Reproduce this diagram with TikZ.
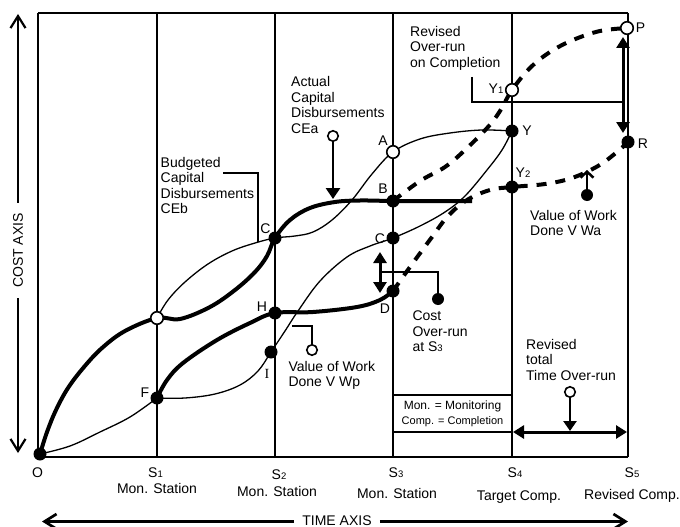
\documentclass[tikz,border=0pt]{standalone}
\usepackage{fontspec}
\setmainfont{Liberation Sans}
\newfontfamily\romanfont{Liberation Serif}
\usetikzlibrary{arrows.meta}
\newcommand\lowdigit[1]{{\fontsize{9.5}{10}\selectfont #1}}
\begin{document}
\begin{tikzpicture}[x=1pt,y=-1pt,
  frame/.style={line width=1.6pt},
  thincurve/.style={line width=1.3pt},
  thickcurve/.style={line width=4pt},
  dashcurve/.style={line width=4pt, dash pattern=on 10pt off 9pt},
  fulldot/.style={circle, fill=black, inner sep=0pt, minimum size=13pt},
  opendot/.style={circle, draw=black, fill=white, line width=1.6pt, inner sep=0pt, minimum size=12.5pt},
  tagdot/.style={circle, draw=black, fill=white, line width=1.6pt, inner sep=0pt, minimum size=10.5pt},
  lbl/.style={font=\fontsize{14}{15.6}\selectfont, inner sep=0pt},
  block/.style={lbl, align=left, anchor=north west},
  leader/.style={line width=1.6pt},
  pointer/.style={line width=2.7pt, -{Triangle[length=11pt,width=14pt]}},
  barbpointer/.style={line width=2.5pt, -{Straight Barb[length=6pt,width=13pt]}},
  span/.style={line width=3pt, {Triangle[length=11pt,width=13pt]}-{Triangle[length=11pt,width=13pt]}},
  axisarrow/.style={line width=2.2pt, -{Straight Barb[length=12pt,width=15pt]}},
]
\fill[white] (0,0) rectangle (680,527);
\useasboundingbox (0,0) rectangle (680,527);

% frame and monitoring-station verticals
\foreach \n/\x in {0/38,1/157,2/275,3/393,4/512,5/628}{
  \coordinate (top\n) at (\x,13);
  \coordinate (foot\n) at (\x,457);
}
\draw[frame] (top0) -- (top5) (foot0) -- (foot5);
\foreach \n in {0,...,5} \draw[frame] (top\n) -- (foot\n);

% legend box between S3 and S4
\node[draw, frame, minimum width=119pt, minimum height=37pt, inner sep=0pt,
      align=center, font=\fontsize{12}{15}\selectfont] (legend) at (452.5,413.5)
  {Mon. = Monitoring\\{\fontsize{11}{15}\selectfont Comp. = Completion}};

% key points of the curves
\coordinate (pO) at (40,454);
\coordinate (pE) at (157,318);
\coordinate (pF) at (157,398);
\coordinate (pC2) at (275,238);
\coordinate (pH) at (275,313);
\coordinate (pI) at (271,352);
\coordinate (pA) at (393,152);
\coordinate (pB) at (393,201);
\coordinate (pC3) at (393,238);
\coordinate (pD) at (393,291);
\coordinate (pY) at (512,131);
\coordinate (pY1) at (512,90);
\coordinate (pY2) at (512,187);
\coordinate (pP) at (627,28);
\coordinate (pR) at (628,142);
\coordinate (pBend) at (472,201);

% thin curves
\draw[thincurve] plot[smooth, tension=0.6] coordinates
  {(pO) (70,446) (100,432) (130,417) (pF)};
\draw[thincurve] plot[smooth, tension=0.6] coordinates
  {(pF) (185,398) (215,394) (240,385) (258,371) (pI) (285,331) (298,311) (320,281)
   (347,257) (370,246) (pC3) (420,226) (445,212) (465,196) (487,170) (502,150) (pY)};
\draw[thincurve] plot[smooth, tension=0.6] coordinates
  {(pE) (168,300) (185,282) (208,264) (232,251) (255,243) (pC2) (295,236) (313,232)
   (332,220) (352,200) (372,174) (pA) (420,139) (450,133) (482,130) (pY)};

% thick curves
\draw[thickcurve] plot[smooth, tension=0.6] coordinates
  {(pO) (47,432) (56,410) (68,388) (84,367) (102,348) (125,331) (pE) (180,319)
   (210,307) (235,290) (255,272) (267,256) (pC2) (290,220) (310,208) (335,202)
   (360,200.5) (pB) (430,201) (pBend)};
\draw[thickcurve] plot[smooth, tension=0.6] coordinates
  {(pF) (167,380) (183,363) (217,340) (250,323) (pH) (313,312) (357,307) (380,300) (pD)};

% revised (dashed) curves
\draw[dashcurve] plot[smooth, tension=0.6] coordinates
  {(pB) (420,181) (445,167) (465,150) (488,127) (500,111) (pY1) (530,68) (550,52)
   (573,40) (600,31) (pP)};
\draw[dashcurve] plot[smooth, tension=0.6] coordinates
  {(pD) (410,267) (432,237) (448,216) (467,200) (490,190) (pY2) (545,184) (572,178)
   (598,166) (617,152) (pR)};

% dots on the curves
\node[fulldot] (O) at (pO) {};
\node[opendot] (E) at (pE) {};
\node[fulldot] (F) at (pF) {};
\node[fulldot] (C2) at (pC2) {};
\node[fulldot] (H) at (pH) {};
\node[fulldot] (I) at (pI) {};
\node[opendot] (A) at (pA) {};
\node[fulldot] (B) at (pB) {};
\node[fulldot] (C3) at (pC3) {};
\node[fulldot] (D) at (pD) {};
\node[fulldot] (Y) at (pY) {};
\node[opendot] (Y1) at (pY1) {};
\node[fulldot] (Y2) at (pY2) {};
\node[opendot] (P) at (pP) {};
\node[fulldot] (R) at (pR) {};

% point letters
\node[lbl, anchor=base] (labA) at (383,145) {A};
\node[lbl, anchor=base] (labB) at (383,193) {B};
\node[lbl, anchor=base] (labC3) at (380,243) {C};
\node[lbl, anchor=base] (labD) at (385,313) {D};
\node[lbl, anchor=base] (labC2) at (265.5,233) {C};
\node[lbl, anchor=base] (labH) at (262,311) {H};
\node[lbl, anchor=base] (labI) at (267,378) {\romanfont I};
\node[lbl, anchor=base] (labF) at (145,397) {F};
\node[lbl, anchor=base] (labY1) at (496,93) {Y\lowdigit{1}};
\node[lbl, anchor=base] (labY) at (527,135) {Y};
\node[lbl, anchor=base] (labY2) at (523,177) {Y\lowdigit{2}};
\node[lbl, anchor=base] (labP) at (640.5,33) {P};
\node[lbl, anchor=base] (labR) at (643,148) {R};

% time axis stations
\node[lbl, anchor=base] (labO) at (37.5,477) {O};
\node[lbl, anchor=base] (labS1) at (155.5,477) {S\lowdigit{1}};
\node[lbl, anchor=base] (labS2) at (279,479) {S\lowdigit{2}};
\node[lbl, anchor=base] (labS3) at (396,477) {S\lowdigit{3}};
\node[lbl, anchor=base] (labS4) at (515,477) {S\lowdigit{4}};
\node[lbl, anchor=base] (labS5) at (632,477) {S\lowdigit{5}};
\node[lbl, anchor=base] (monS1) at (157,493) {Mon. Station};
\node[lbl, anchor=base] (monS2) at (277,496) {Mon. Station};
\node[lbl, anchor=base] (monS3) at (397,498) {Mon. Station};
\node[lbl, anchor=base] (tgtS4) at (519,500) {Target Comp.};
\node[lbl, anchor=base] (revS5) at (632,499) {Revised Comp.};

% budgeted disbursements
\node[block] (budText) at (160.5,156.8) {Budgeted\\Capital\\Disbursements\\CEb};
\coordinate (budStart) at (223,173);
\coordinate (budEnd) at (258,242);
\draw[leader] (budStart) -| (budEnd);

% actual disbursements
\node[block] (actText) at (291,76.3) {Actual\\Capital\\Disbursements\\CEa};
\node[tagdot] (actTag) at (333,136) {};
\coordinate (actTip) at (333,199);
\draw[pointer] (actTag) -- (actTip);

% revised over-run on completion
\node[block] (rovText) at (410,25.8) {Revised\\Over-run\\on Completion};
\coordinate (rovStart) at (472,77);
\coordinate (rovEnd) at (623,102);
\draw[leader] (rovStart) |- (rovEnd);
\coordinate (spanP) at (623,37);
\coordinate (spanR) at (623,133);
\draw[span] (spanP) -- (spanR);

% value of work done (actual)
\node[block] (vwaText) at (530,209.8) {Value of Work\\Done V Wa};
\node[fulldot, minimum size=12pt] (vwaDot) at (587,195) {};
\coordinate (vwaTip) at (587,170);
\draw[barbpointer] (vwaDot) -- (vwaTip);

% cost over-run at S3
\node[block] (covText) at (412.3,310.8) {Cost\\Over-run\\at S\lowdigit{3}};
\coordinate (covTop) at (380,252);
\coordinate (covBot) at (380,293);
\draw[span] (covTop) -- (covBot);
\coordinate (covMid) at (380,272);
\node[fulldot, minimum size=12pt] (covDot) at (438,299) {};
\draw[leader] (covMid) -| (covDot);

% value of work done (planned)
\node[block] (vwpText) at (288.3,360.8) {Value of Work\\Done V Wp};
\node[tagdot] (vwpTag) at (312,350) {};
\coordinate (vwpEnd) at (292,326);
\draw[leader] (vwpTag) |- (vwpEnd);

% revised total time over-run
\node[block] (totText) at (526,339) {Revised\\total\\Time Over-run};
\node[tagdot] (totTag) at (570,392) {};
\coordinate (totTip) at (570,431);
\draw[pointer, -{Triangle[length=10pt,width=13pt]}] (totTag) -- (totTip);
\coordinate (totLeft) at (513,432);
\coordinate (totRight) at (627,432);
\draw[span] (totLeft) -- (totRight);

% cost axis
\node[lbl, rotate=90, inner xsep=10pt] (costLabel) at (18,250.5) {COST AXIS};
\coordinate (costTip) at (18,14);
\coordinate (costFoot) at (18,453);
\draw[axisarrow] (costLabel.east) -- (costTip);
\draw[axisarrow] (costLabel.west) -- (costFoot);

% time axis
\node[lbl, inner xsep=8pt] (timeLabel) at (337,520.5) {TIME AXIS};
\coordinate (timeLeft) at (42,521.5);
\coordinate (timeRight) at (628,521.5);
\draw[axisarrow, line width=2.7pt] (timeLabel.west) ++(0,1) -- (timeLeft);
\draw[axisarrow, line width=2.7pt] (timeLabel.east) ++(0,1) -- (timeRight);
\end{tikzpicture}
\end{document}
